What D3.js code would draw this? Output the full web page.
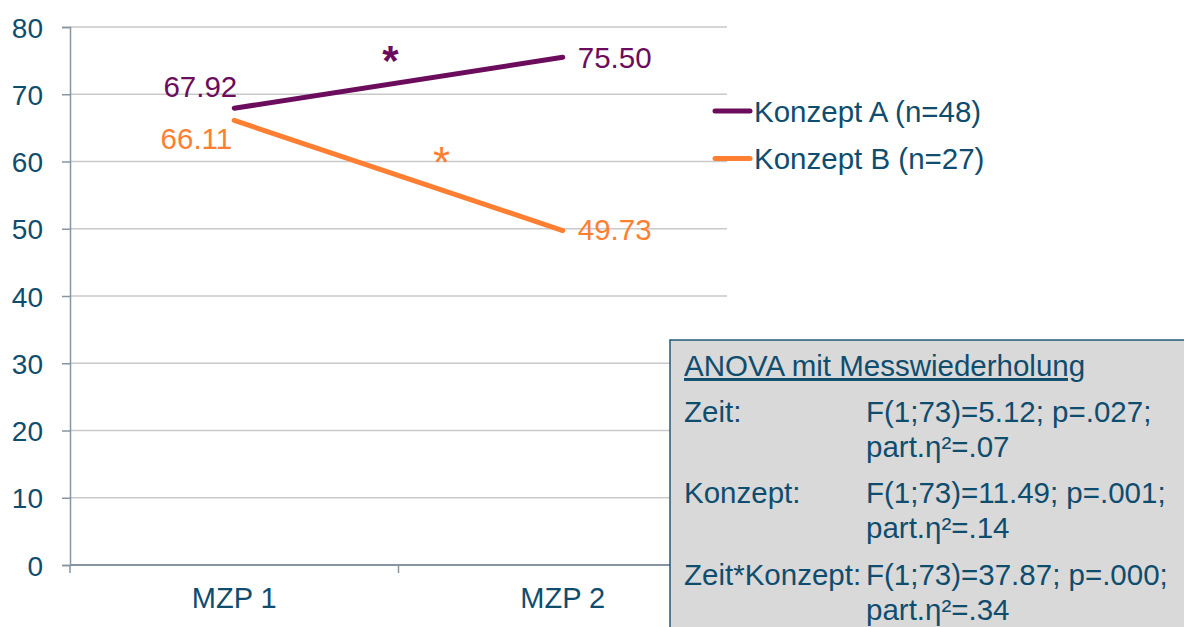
<!DOCTYPE html>
<meta charset="utf-8">
<style>
    body { margin: 0; background: #fff; font-family: 'Liberation Sans', Arial, sans-serif; }
    text { font-family: 'Liberation Sans', Arial, sans-serif; }
</style>
<svg width="1184" height="627"></svg>
<script src="https://d3js.org/d3.v7.min.js"></script>
<script>

    var categories = ["MZP 1", "MZP 2"];
    var konzeptA = [67.92, 75.50];
    var konzeptB = [66.11, 49.73];
    var seriesNames = ["Konzept A (n=48)", "Konzept B (n=27)"];
    var seriesColors = ["#6b0c5c", "#ff7f32"];
    var yTicks = [0, 10, 20, 30, 40, 50, 60, 70, 80];

    var anovaTitle = "ANOVA mit Messwiederholung";
    var anovaLabels = ["Zeit:", "Konzept:", "Zeit*Konzept:"];
    var anovaStats = ["F(1;73)=5.12; p=.027;", "F(1;73)=11.49; p=.001;", "F(1;73)=37.87; p=.000;"];
    var anovaEta = ["part.η²=.07", "part.η²=.14", "part.η²=.34"];

    var textColor = "#0f4d6e";
    var fs = "29.5px";

    var svg = d3.select("svg");

    var x = d3.scaleBand().domain(categories).range([70, 727]);
    var y = d3.scaleLinear().domain([0, 80]).range([565, 27]);

    // gridlines
    svg.append("g")
        .selectAll("line")
        .data(yTicks.filter(function (d) { return d > 0; }))
        .enter().append("line")
        .attr("x1", 70).attr("x2", 727)
        .attr("y1", function (d) { return y(d); })
        .attr("y2", function (d) { return y(d); })
        .style("stroke", "#c9c9c9").style("stroke-width", "1.3px");

    // y axis
    var yAxis = svg.append("g")
        .attr("transform", "translate(70,0)")
        .call(d3.axisLeft(y).tickValues(yTicks).tickSize(8).tickPadding(19));
    yAxis.select(".domain").style("stroke", "#8795a3").style("stroke-width", "1.5px");
    yAxis.selectAll(".tick line").style("stroke", "#8795a3").style("stroke-width", "1.5px");
    yAxis.selectAll(".tick text")
        .style("font-size", "28px").style("fill", textColor).attr("dy", "0.36em");

    // x axis
    var xAxis = svg.append("g")
        .attr("transform", "translate(0,565)")
        .call(d3.axisBottom(x).tickSize(0).tickPadding(22));
    xAxis.select(".domain").attr("d", "M70,0H727").style("stroke", "#8795a3").style("stroke-width", "2px");
    xAxis.selectAll(".tick text").style("font-size", "29px").style("fill", textColor).attr("dy", "0.71em");
    xAxis.selectAll(".bound")
        .data([x.range()[0], x.range()[0] + x.bandwidth(), x.range()[1]])
        .enter().append("line")
        .attr("x1", function (d) { return d; }).attr("x2", function (d) { return d; })
        .attr("y1", 0).attr("y2", 8)
        .style("stroke", "#8795a3").style("stroke-width", "1.5px");

    var cx = function (i) { return x(categories[i]) + x.bandwidth() / 2; };

    var line = d3.line()
        .x(function (d, i) { return cx(i); })
        .y(function (d) { return y(d); });

    var series = [konzeptA, konzeptB];
    svg.append("g")
        .selectAll("path")
        .data(series)
        .enter().append("path")
        .attr("d", line)
        .style("fill", "none")
        .style("stroke", function (d, i) { return seriesColors[i]; })
        .style("stroke-width", "5px")
        .style("stroke-linecap", "round");

    // data labels
    var labelOffsets = [[[3, -22], [15, 0]], [[-2, 18], [15, -1]]];
    series.forEach(function (s, si) {
        svg.append("g").selectAll("text")
            .data(s)
            .enter().append("text")
            .attr("x", function (d, i) { return cx(i) + labelOffsets[si][i][0]; })
            .attr("y", function (d, i) { return y(d) + labelOffsets[si][i][1]; })
            .attr("dy", "0.36em")
            .attr("text-anchor", function (d, i) { return i === 0 ? "end" : "start"; })
            .style("font-size", fs)
            .style("fill", seriesColors[si])
            .text(function (d) { return d.toFixed(2); });
    });

    // significance stars
    var midX = (cx(0) + cx(1)) / 2;
    svg.append("text")
        .attr("x", midX - 8).attr("y", y(d3.mean(konzeptA)) - 8)
        .attr("text-anchor", "middle")
        .style("font-size", "42px").style("font-weight", "bold")
        .style("fill", seriesColors[0]).text("*");
    svg.append("text")
        .attr("x", midX + 43).attr("y", y(d3.mean(konzeptB)) + 3)
        .attr("text-anchor", "middle")
        .style("font-size", "44px")
        .style("fill", seriesColors[1]).text("*");

    // legend
    var legend = svg.append("g")
        .selectAll("g")
        .data(seriesNames)
        .enter().append("g")
        .attr("transform", function (d, i) { return "translate(713," + (111 + i * 47.5) + ")"; });
    legend.append("line")
        .attr("x1", 2).attr("x2", 37).attr("y1", 0).attr("y2", 0)
        .style("stroke", function (d, i) { return seriesColors[i]; })
        .style("stroke-width", "5px").style("stroke-linecap", "round");
    legend.append("text")
        .attr("x", 41).attr("y", 0).attr("dy", "0.36em")
        .style("font-size", fs).style("fill", textColor)
        .text(function (d) { return d; });

    // ANOVA box
    var box = svg.append("g");
    box.append("rect")
        .attr("x", 670).attr("y", 340).attr("width", 520).attr("height", 300)
        .style("fill", "#d9d9d9").style("stroke", "#1f5a7a").style("stroke-width", "1.5px");
    box.append("text")
        .attr("x", 684).attr("y", 376)
        .style("font-size", fs).style("fill", textColor)
        .style("text-decoration", "underline")
        .text(anovaTitle);
    var rowY = [422, 503, 585];
    anovaLabels.forEach(function (lab, i) {
        box.append("text").attr("x", 684).attr("y", rowY[i])
            .style("font-size", fs).style("fill", textColor).text(lab);
        box.append("text").attr("x", 866).attr("y", rowY[i])
            .style("font-size", fs).style("fill", textColor).text(anovaStats[i]);
        box.append("text").attr("x", 866).attr("y", rowY[i] + 35)
            .style("font-size", fs).style("fill", textColor).text(anovaEta[i]);
    });

</script>
